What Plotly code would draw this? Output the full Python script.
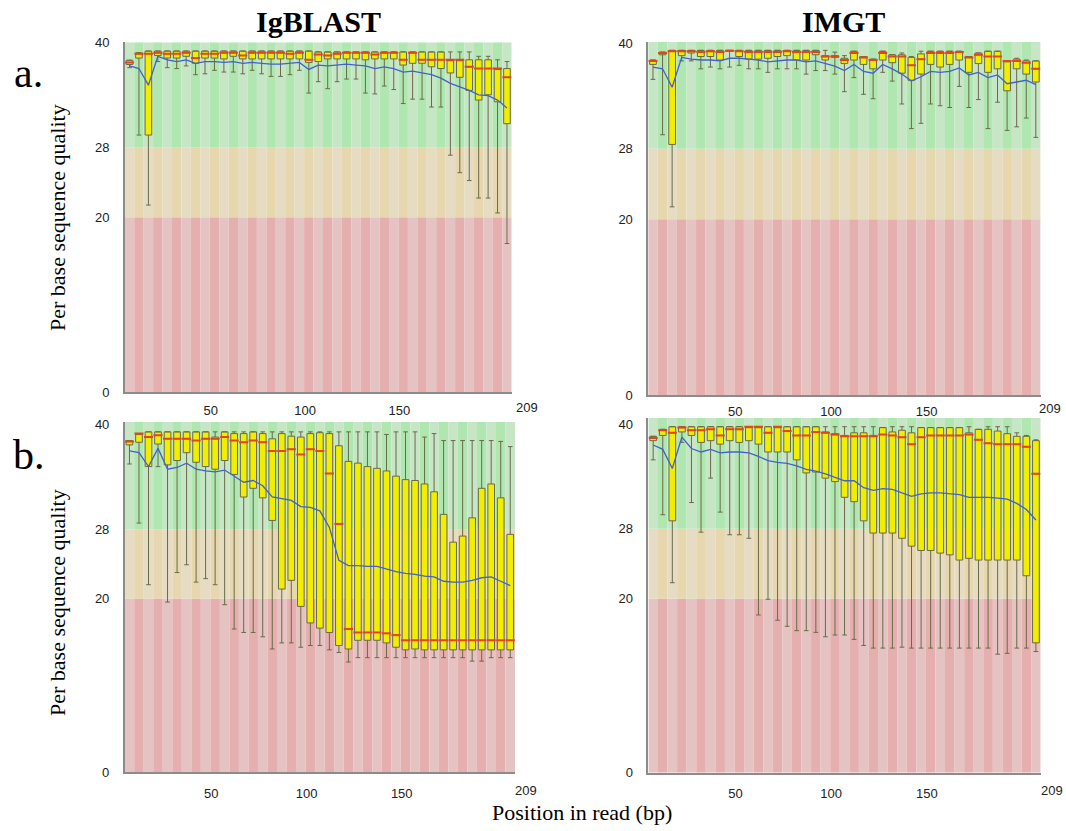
import plotly.graph_objects as go

W, H = 1066, 831

# ---------------- data ----------------
POS = [7, 12, 17, 22, 27, 32, 37, 42, 47, 52, 57, 62, 67, 72, 77, 82, 87, 92, 97, 102,
       107, 112, 117, 122, 127, 132, 137, 142, 147, 152, 157, 162, 167, 172, 177, 182,
       187, 192, 197, 202, 207]
X_TICKS = [50, 100, 150]
X_END_LABEL = 209
Y_TICKS = [0, 20, 28, 40]
BAND_LIMITS = [0, 20, 28]          # red / amber / green zone lower limits

# IgBLAST, panel a
A_Q3 = [37.95, 38.8, 39.0, 39.0, 39.0, 39.0, 39.0, 39.0, 39.0, 39.0, 39.0, 39.0, 39.0, 39.0, 39.0, 39.0, 39.0, 39.0, 39.0, 39.0,
        38.9, 38.9, 38.9, 38.9, 38.9, 38.9, 38.9, 38.9, 38.9, 38.9, 38.9, 38.9, 38.9, 38.9, 38.0, 38.0, 38.0, 38.0, 38.0, 37.0, 37.0]
A_Q1 = [37.46, 38.2, 29.4, 38.5, 38.2, 38.2, 38.4, 37.6, 38.2, 38.2, 38.1, 38.4, 38.1, 38.1, 38.1, 38.1, 38.1, 38.1, 38.1, 37.7,
        37.8, 38.1, 38.1, 38.1, 38.1, 38.0, 38.1, 38.1, 38.1, 37.4, 37.6, 37.6, 37.2, 37.0, 36.5, 36.0, 34.5, 33.4, 34.0, 33.2, 30.7]
A_MED = [37.7, 38.7, 38.7, 38.8, 38.7, 38.7, 38.8, 38.2, 38.7, 38.7, 38.8, 38.8, 38.5, 38.8, 38.8, 38.8, 38.8, 38.7, 38.8, 38.0,
         38.6, 38.5, 38.7, 38.8, 38.8, 38.8, 38.6, 38.8, 38.8, 38.0, 38.8, 38.0, 38.0, 38.0, 38.0, 38.0, 37.2, 37.0, 37.0, 37.0, 36.0]
A_LO = [37.1, 29.4, 21.4, 37.8, 37.1, 37.0, 37.3, 36.3, 36.4, 36.8, 36.6, 36.6, 36.4, 36.8, 36.4, 36.1, 36.1, 36.3, 36.8, 34.2,
        35.5, 34.7, 35.5, 35.8, 35.8, 34.2, 34.1, 35.0, 34.6, 33.0, 33.5, 33.5, 32.6, 32.6, 27.1, 25.1, 24.2, 22.2, 22.2, 20.5, 17.0]
A_HI = [37.95, 38.8, 39.0, 39.0, 39.0, 39.0, 39.0, 39.0, 39.0, 39.0, 39.0, 39.0, 39.0, 39.0, 39.0, 39.0, 39.0, 39.0, 39.0, 39.0,
        38.9, 38.9, 38.9, 38.9, 38.9, 38.9, 38.9, 38.9, 38.9, 38.9, 38.9, 38.9, 38.9, 38.9, 38.9, 38.9, 38.9, 38.4, 38.4, 38.0, 37.8]
A_MEAN = [37.3, 37.0, 35.1, 38.4, 38.0, 37.8, 38.0, 37.6, 37.8, 37.8, 37.7, 37.8, 37.6, 37.7, 37.6, 37.5, 37.5, 37.6, 37.7, 36.9,
          37.4, 37.3, 37.4, 37.5, 37.4, 37.3, 37.0, 37.2, 37.0, 36.6, 36.7, 36.5, 36.3, 35.9, 35.3, 34.9, 34.5, 34.0, 33.9, 33.4, 32.5]

# IMGT, panel a
B_Q3 = [38.1, 39.0, 39.2, 39.2, 39.2, 39.2, 39.2, 39.2, 39.2, 39.2, 39.2, 39.2, 39.2, 39.2, 39.2, 39.2, 39.2, 39.2, 38.6, 38.6,
        38.3, 39.1, 38.5, 38.2, 39.1, 38.7, 38.7, 38.4, 38.8, 39.1, 39.1, 39.1, 39.1, 38.5, 38.9, 39.1, 39.1, 38.0, 38.2, 38.0, 38.0]
B_Q1 = [37.6, 38.7, 28.5, 38.6, 38.9, 38.5, 38.5, 38.1, 39.1, 38.5, 38.2, 38.2, 38.3, 38.5, 38.6, 38.1, 38.1, 38.7, 38.1, 38.4,
        37.7, 38.1, 37.6, 37.1, 38.1, 37.8, 36.6, 35.8, 36.5, 37.6, 37.3, 37.6, 38.1, 36.7, 37.7, 36.7, 37.1, 34.6, 37.1, 36.5, 35.6]
B_MED = [38.0, 38.9, 39.1, 39.1, 39.1, 39.0, 39.1, 39.0, 39.15, 39.1, 39.0, 39.0, 39.0, 39.0, 39.1, 39.0, 39.0, 39.0, 38.5, 38.5,
         38.1, 38.9, 38.4, 38.1, 38.9, 38.5, 38.5, 37.5, 38.2, 38.9, 38.9, 38.9, 39.0, 38.4, 38.7, 38.5, 38.5, 38.0, 38.0, 37.8, 37.1]
B_LO = [35.9, 29.6, 21.4, 38.0, 38.0, 37.1, 37.3, 37.1, 37.3, 37.5, 37.1, 37.1, 36.7, 37.1, 37.1, 37.1, 36.5, 36.9, 36.9, 36.5,
        34.5, 36.1, 34.2, 33.7, 36.7, 35.7, 33.1, 30.3, 30.9, 33.1, 32.9, 32.7, 35.1, 32.7, 33.6, 30.3, 33.3, 30.1, 30.5, 31.5, 29.3]
B_HI = [38.1, 39.0, 39.2, 39.2, 39.2, 39.2, 39.2, 39.2, 39.2, 39.2, 39.2, 39.2, 39.2, 39.2, 39.2, 39.2, 39.2, 39.2, 39.2, 39.0,
        38.6, 39.1, 38.5, 38.2, 39.1, 38.7, 38.9, 38.5, 39.1, 39.1, 39.1, 39.1, 39.1, 38.5, 38.9, 39.1, 39.1, 38.0, 38.3, 38.1, 38.0]
B_MEAN = [37.3, 37.1, 35.0, 38.4, 38.2, 38.1, 38.1, 38.0, 38.3, 38.3, 38.2, 38.1, 37.9, 38.0, 38.1, 38.1, 37.9, 38.0, 37.7, 37.4,
          36.9, 37.6, 36.8, 36.6, 37.6, 37.1, 36.5, 35.7, 36.2, 36.8, 36.7, 36.8, 37.2, 36.4, 36.7, 36.1, 36.4, 35.4, 35.6, 35.8, 35.3]

# IgBLAST, panel b
C_Q3 = [38.2, 39.0, 39.2, 39.2, 39.2, 39.2, 39.2, 39.2, 39.2, 38.6, 39.2, 39.0, 39.0, 39.2, 39.0, 38.4, 39.0, 38.7, 38.6, 39.0,
        39.1, 39.0, 37.6, 35.8, 35.6, 35.2, 35.0, 34.7, 34.1, 33.7, 33.6, 33.2, 32.3, 29.7, 26.5, 27.2, 29.3, 32.7, 33.2, 31.6, 27.4]
C_Q1 = [37.7, 38.0, 35.2, 37.8, 35.4, 35.9, 36.8, 35.7, 35.2, 34.9, 35.9, 34.3, 31.7, 32.7, 31.6, 29.0, 21.1, 22.1, 19.1, 17.2,
        16.6, 16.1, 14.6, 14.2, 15.2, 15.2, 15.2, 14.9, 14.4, 14.1, 14.2, 14.1, 14.1, 14.1, 14.1, 14.1, 14.1, 14.1, 14.1, 14.1, 14.1]
C_MED = [38.1, 39.0, 38.6, 38.8, 38.4, 38.4, 38.4, 38.2, 38.4, 38.4, 38.6, 38.2, 38.0, 38.2, 38.0, 37.0, 37.0, 37.2, 36.6, 37.2,
         37.0, 34.4, 28.6, 16.5, 16.1, 16.1, 16.1, 16.0, 15.8, 15.2, 15.2, 15.2, 15.2, 15.2, 15.2, 15.2, 15.2, 15.2, 15.2, 15.2, 15.2]
C_LO = [35.5, 28.7, 21.6, 35.2, 19.6, 23.0, 23.9, 21.9, 22.3, 21.6, 19.3, 16.5, 16.1, 16.1, 15.6, 14.2, 14.9, 14.9, 14.4, 14.6,
        14.6, 14.1, 13.8, 12.7, 13.2, 13.2, 13.2, 13.2, 13.2, 13.2, 13.2, 13.2, 13.2, 13.2, 13.2, 13.2, 12.8, 12.8, 13.2, 13.2, 13.2]
C_HI = [38.2, 39.0, 39.2, 39.2, 39.2, 39.2, 39.2, 39.2, 39.2, 39.2, 39.2, 39.2, 39.2, 39.2, 39.2, 39.2, 39.2, 39.2, 39.2, 39.2,
        39.2, 39.2, 39.2, 39.2, 39.2, 39.2, 39.2, 38.9, 39.2, 39.2, 39.2, 38.6, 39.0, 38.2, 38.2, 38.2, 38.2, 38.2, 38.2, 38.1, 37.5]
C_MEAN = [37.0, 36.8, 35.2, 37.3, 34.9, 35.1, 35.6, 34.9, 34.7, 34.6, 34.8, 34.1, 33.4, 33.6, 33.0, 31.7, 31.5, 31.3, 30.6, 30.5,
          30.1, 28.2, 24.4, 23.8, 23.8, 23.7, 23.7, 23.4, 23.1, 22.9, 22.8, 22.6, 22.5, 22.0, 21.9, 21.9, 22.1, 22.4, 22.5, 22.0, 21.5]

# IMGT, panel b
D_Q3 = [38.6, 39.4, 39.7, 39.7, 39.7, 39.7, 39.7, 39.7, 39.7, 39.7, 39.7, 39.7, 39.7, 39.7, 39.7, 39.7, 39.7, 39.7, 39.1, 38.9,
        38.7, 39.0, 39.0, 38.7, 39.6, 39.1, 39.3, 39.0, 39.6, 39.6, 39.6, 39.6, 39.6, 39.0, 39.4, 39.4, 39.2, 38.9, 38.6, 38.6, 38.1]
D_Q1 = [38.1, 38.7, 28.9, 39.1, 38.7, 37.9, 38.1, 37.7, 38.1, 37.9, 38.1, 37.7, 36.8, 36.8, 36.8, 35.9, 34.4, 34.5, 33.8, 33.4,
        31.6, 31.1, 28.9, 27.5, 27.5, 27.5, 26.9, 26.0, 25.5, 25.5, 25.2, 25.0, 24.4, 24.6, 24.4, 24.4, 24.4, 24.4, 24.4, 22.6, 14.9]
D_MED = [38.4, 39.3, 39.0, 39.6, 39.3, 39.3, 39.4, 38.7, 39.4, 39.4, 39.7, 39.7, 39.0, 39.7, 39.2, 38.7, 38.7, 39.1, 39.0, 38.8,
         38.6, 38.6, 38.6, 38.6, 38.8, 38.7, 38.5, 37.7, 38.5, 38.7, 38.7, 38.7, 38.7, 38.8, 38.2, 37.8, 37.7, 37.7, 37.7, 37.4, 34.3]
D_LO = [35.9, 29.6, 21.8, 37.9, 31.0, 27.6, 33.8, 29.9, 27.3, 27.3, 26.9, 18.1, 19.9, 17.5, 16.8, 16.3, 16.3, 16.1, 15.6, 15.8,
        15.8, 15.3, 14.6, 14.3, 14.3, 14.3, 14.4, 14.3, 14.3, 14.3, 14.3, 14.3, 14.3, 14.3, 14.3, 14.3, 13.6, 13.7, 14.3, 14.3, 13.9]
D_HI = [38.6, 39.4, 39.7, 39.7, 39.7, 39.7, 39.7, 39.7, 39.7, 39.7, 39.7, 39.7, 39.7, 39.7, 39.7, 39.7, 39.7, 39.7, 39.7, 39.7,
        39.7, 39.7, 39.7, 39.7, 39.6, 39.7, 39.7, 39.7, 39.6, 39.6, 39.6, 39.6, 39.6, 39.7, 39.4, 39.7, 39.7, 39.7, 39.0, 38.7, 38.2]
D_MEAN = [37.6, 37.1, 34.9, 38.5, 37.2, 36.8, 37.1, 36.7, 36.8, 36.8, 36.7, 36.3, 35.8, 35.6, 35.5, 35.2, 34.8, 34.6, 34.3, 33.9,
          33.5, 33.5, 32.7, 32.4, 32.6, 32.5, 32.1, 31.7, 32.0, 32.1, 32.1, 32.0, 31.9, 31.6, 31.6, 31.6, 31.5, 31.4, 30.9, 30.2, 29.0]

# ---------------- styling ----------------
ZONE_COLORS = [  # (light, dark) per zone: red, amber, green
    ("rgb(230,195,195)", "rgb(230,175,175)"),
    ("rgb(230,220,195)", "rgb(230,215,175)"),
    ("rgb(198,230,198)", "rgb(176,230,176)"),
]
BOX_FILL = "#f2ee00"
BOX_LINE = "#6a6a48"
MEDIAN_COLOR = "#e4451c"
MEAN_COLOR = "#4261cf"
AXIS_LINE = "#8c8c8c"
SERIF = "Liberation Serif, Times New Roman, serif"
SANS = "Liberation Sans, Arial, sans-serif"

# panel frames in pixels: (x0, x1, y_top, y_bottom)
panels = [
    dict(ax="", q3=A_Q3, q1=A_Q1, med=A_MED, lo=A_LO, hi=A_HI, mean=A_MEAN,
         px=(124.8, 511.7, 42.3, 392.3), ymax=40.0, tl=5, endshift=16),
    dict(ax="2", q3=B_Q3, q1=B_Q1, med=B_MED, lo=B_LO, hi=B_HI, mean=B_MEAN,
         px=(648.2, 1040.6, 42.0, 395.0), ymax=40.15, tl=4, endshift=10),
    dict(ax="3", q3=C_Q3, q1=C_Q1, med=C_MED, lo=C_LO, hi=C_HI, mean=C_MEAN,
         px=(124.7, 515.0, 421.7, 772.3), ymax=40.37, tl=8, endshift=12),
    dict(ax="4", q3=D_Q3, q1=D_Q1, med=D_MED, lo=D_LO, hi=D_HI, mean=D_MEAN,
         px=(648.4, 1040.7, 418.0, 772.7), ymax=40.7, tl=8, endshift=12),
]

fig = go.Figure()
layout_axes = {}
annotations = []

for p in panels:
    xa, ya = "x" + p["ax"], "y" + p["ax"]
    x0, x1, yt, yb = p["px"]
    ymax = p["ymax"]
    # background zones, alternating stripes per position group
    limits = BAND_LIMITS + [ymax]
    for z in range(3):
        lo_b, hi_b = limits[z], limits[z + 1]
        light, dark = ZONE_COLORS[z]
        fig.add_trace(go.Bar(
            x=POS, y=[hi_b - lo_b] * len(POS), base=lo_b, width=5,
            marker=dict(color=[light if i % 2 == 0 else dark for i in range(len(POS))],
                        line=dict(width=0)),
            xaxis=xa, yaxis=ya, showlegend=False, hoverinfo="skip"))
    # boxes + whiskers
    fig.add_trace(go.Box(
        x=POS, q1=p["q1"], median=p["med"], q3=p["q3"],
        lowerfence=p["lo"], upperfence=p["hi"], orientation="v",
        width=3.5, whiskerwidth=0.7, boxpoints=False,
        fillcolor=BOX_FILL, line=dict(color=BOX_LINE, width=1),
        xaxis=xa, yaxis=ya, showlegend=False))
    # medians in red
    fig.add_trace(go.Scatter(
        x=POS, y=p["med"], mode="markers",
        marker=dict(symbol="line-ew", size=6.5, line=dict(color=MEDIAN_COLOR, width=2)),
        xaxis=xa, yaxis=ya, showlegend=False))
    # mean line
    fig.add_trace(go.Scatter(
        x=POS, y=p["mean"], mode="lines", line=dict(color=MEAN_COLOR, width=1.3),
        xaxis=xa, yaxis=ya, showlegend=False))

    key = p["ax"]
    layout_axes["xaxis" + key] = dict(
        domain=[x0 / W, x1 / W], range=[4.5, 209.5], anchor=ya, automargin=False,
        tickvals=X_TICKS, ticks="outside", ticklen=p["tl"], tickcolor="rgba(0,0,0,0)",
        showgrid=False, zeroline=False, showline=True, linecolor=AXIS_LINE, linewidth=1.5,
        tickfont=dict(family=SANS, size=13, color="#222222"), fixedrange=True)
    layout_axes["yaxis" + key] = dict(
        domain=[1 - yb / H, 1 - yt / H], range=[0, ymax], anchor=xa, automargin=False,
        tickvals=Y_TICKS, ticks="outside", ticklen=11, tickcolor="rgba(0,0,0,0)",
        showgrid=False, zeroline=False, showline=True, linecolor=AXIS_LINE, linewidth=1.5,
        tickfont=dict(family=SANS, size=13, color="#222222"), fixedrange=True)
    # end-of-read label
    annotations.append(dict(
        x=X_END_LABEL, xref=xa, y=1 - (yb + p["tl"] + 10) / H, yref="paper",
        text=str(X_END_LABEL), showarrow=False, xshift=p["endshift"], yanchor="middle",
        font=dict(family=SANS, size=13, color="#222222")))


def txt(text, x, y, size, bold=False, angle=0):
    return dict(text=("<b>%s</b>" % text) if bold else text, x=x / W, y=1 - y / H,
                xref="paper", yref="paper", showarrow=False, textangle=angle,
                xanchor="center", yanchor="middle",
                font=dict(family=SERIF, size=size, color="#000000"))


annotations += [
    txt("IgBLAST", 318, 21, 30, bold=True),
    txt("IMGT", 843, 21, 30, bold=True),
    txt("a.", 28, 73, 42),
    txt("b.", 29, 455, 42),
    txt("Per base sequence quality", 57, 218, 22, angle=-90),
    txt("Per base sequence quality", 57, 603, 22, angle=-90),
    txt("Position in read (bp)", 582, 812, 22),
]

fig.update_layout(
    width=W, height=H, margin=dict(l=0, r=0, t=0, b=0, pad=0, autoexpand=False),
    paper_bgcolor="white", plot_bgcolor="white",
    barmode="overlay", boxmode="overlay", showlegend=False,
    annotations=annotations, **layout_axes)

fig.write_html("out.html", config={"displayModeBar": False},
               post_script="document.body.style.margin='0px';")
